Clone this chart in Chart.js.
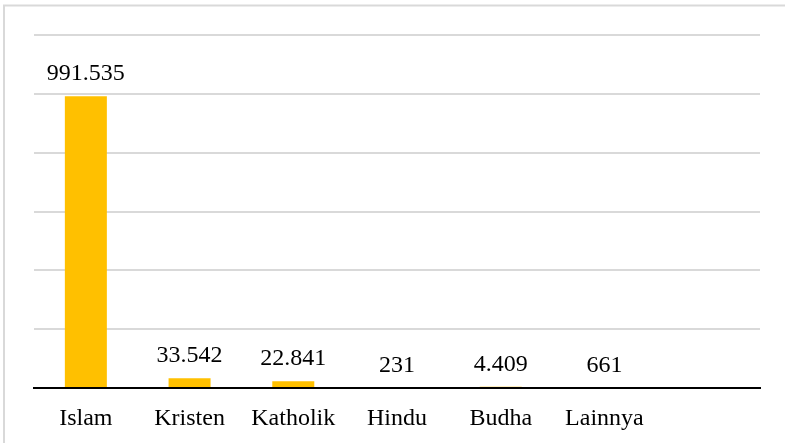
<!DOCTYPE html>
<html>
<head>
<meta charset="utf-8">
<script src="https://cdn.jsdelivr.net/npm/chart.js@4/dist/chart.umd.min.js"></script>
<style>
html,body{margin:0;padding:0;background:#fff;}
#wrap{width:785px;height:443px;position:relative;}
</style>
</head>
<body>
<div id="wrap"><canvas id="c" width="785" height="443"></canvas></div>
<script>
const categories = ['Islam', 'Kristen', 'Katholik', 'Hindu', 'Budha', 'Lainnya', ''];
const values = [991535, 33542, 22841, 231, 4409, 661, null];
const yMin = 0, yMax = 1200000, yStep = 200000;

function fmt(v){ return String(v).replace(/\B(?=(\d{3})+(?!\d))/g, '.'); }

const framePlugin = {
  id: 'frame',
  beforeDraw(chart){
    const ctx = chart.ctx;
    ctx.save();
    ctx.fillStyle = '#fff';
    ctx.fillRect(0,0,chart.width,chart.height);
    ctx.strokeStyle = '#d9d9d9';
    ctx.lineWidth = 2;
    ctx.strokeRect(4, 5.5, 900, 600);
    ctx.restore();
  }
};

const labelPlugin = {
  id: 'vlabels',
  afterDatasetsDraw(chart){
    const ctx = chart.ctx;
    const meta = chart.getDatasetMeta(0);
    ctx.save();
    ctx.font = '24px "Liberation Serif", "Times New Roman", serif';
    ctx.fillStyle = '#000';
    ctx.textAlign = 'center';
    ctx.textBaseline = 'alphabetic';
    meta.data.forEach((bar, i) => {
      const v = values[i];
      if (v === null || v === undefined) return;
      ctx.fillText(fmt(v), bar.x, bar.y - 16);
    });
    ctx.restore();
  }
};

new Chart(document.getElementById('c'), {
  type: 'bar',
  data: {
    labels: categories,
    datasets: [{
      data: values,
      backgroundColor: '#FFC000',
      borderWidth: 0,
      inflateAmount: 0,
      categoryPercentage: 1,
      barPercentage: 0.405
    }]
  },
  options: {
    responsive: false,
    animation: false,
    devicePixelRatio: 1,
    layout: { padding: { left: 34, right: 25, top: 35, bottom: 0 } },
    plugins: { legend: { display: false }, tooltip: { enabled: false } },
    scales: {
      x: {
        grid: { display: false, drawTicks: false },
        border: { display: true, color: '#000', width: 2, z: 1 },
        ticks: {
          color: '#000',
          padding: 16,
          font: { family: '"Liberation Serif", "Times New Roman", serif', size: 24 },
          maxRotation: 0, autoSkip: false
        },
        afterFit(scale){ scale.height = 55; }
      },
      y: {
        min: yMin, max: yMax,
        ticks: { display: false, stepSize: yStep },
        grid: { color: '#d9d9d9', lineWidth: 2, drawTicks: false },
        border: { display: false },
        afterFit(scale){ scale.width = 0; }
      }
    }
  },
  plugins: [framePlugin, labelPlugin]
});
</script>
</body>
</html>
